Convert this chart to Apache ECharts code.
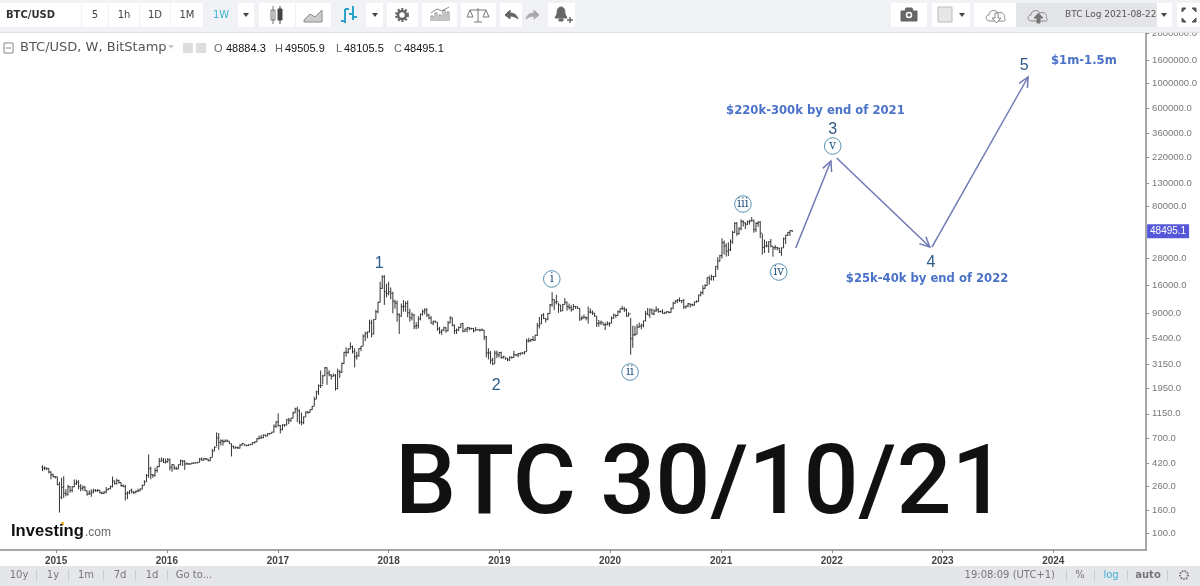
<!DOCTYPE html>
<html>
<head>
<meta charset="utf-8">
<title>BTC/USD</title>
<script src="https://cdn.jsdelivr.net/npm/echarts@6/dist/echarts.min.js"></script>
<style>
  html, body { margin: 0; padding: 0; background: #fff; }
  #main { width: 1200px; height: 586px; }
</style>
</head>
<body>
<div id="main"></div>
<script>
// weekly bars, first one is the week of 2014-11-17
var firstWeek = '2014-11-17';
var opens = [
  385,376,378,375,348,330,318,
  315,270,208,255,226,222,258,240,258,275,283,260,250,255,238,222,226,232,240,238,240,228,225,232,243,248,258,290,275,293,282,265,260,225,228,240,232,230,235,238,246,265,285,325,375,330,325,360,390,435,445,425,
  432,448,385,405,378,372,405,440,435,412,412,410,418,420,420,425,455,445,458,455,440,470,535,580,700,640,660,650,660,655,625,590,570,575,570,605,625,605,602,610,618,640,648,690,700,705,745,730,765,770,790,890,
  975,905,830,915,915,1020,1000,1050,1170,1270,1225,970,960,1080,1190,1180,1250,1340,1550,1800,2050,2050,2500,2950,2650,2550,2480,2510,1930,2730,2700,3220,4050,4050,4350,4550,4100,3700,3780,4380,4580,5650,5980,6150,7400,5900,7950,9300,11300,15000,19000,14000,
  13500,14000,13600,11500,11100,8800,8500,10300,10400,11000,9100,8200,8700,6900,7000,8050,8850,9300,9650,8700,8200,7350,7650,7500,6550,6150,6380,6700,6300,7400,8200,7050,6300,6400,6720,7290,6250,6500,6700,6600,6600,6300,6440,6420,6400,6380,5550,4000,4000,3450,3200,3990,3850,
  4040,3650,3700,3580,3470,3670,3650,3850,3840,3950,3990,3990,4100,5100,5150,5270,5200,5750,6990,7250,8700,8100,8000,8950,10700,11900,11300,11400,10700,9500,10800,11300,10300,10100,9700,10350,10300,9980,8050,8200,8300,8200,9250,9200,9030,8500,7300,7400,7500,7100,7150,7250,
  7350,8150,8700,8600,9300,9900,9900,9650,8520,8900,5350,5800,5880,6770,6900,7050,7700,8900,8700,9650,8900,9450,9680,9330,9300,9000,9070,9300,9170,9930,11050,11600,11800,11650,11700,10250,10450,10950,10750,10670,11350,11500,13100,13760,15000,15900,18700,18200,19150,19150,23500,26200,
  29300,38200,35800,32200,33100,38900,47200,57000,46100,50900,59000,57400,55800,58800,59800,60000,50000,56700,58200,46500,34700,35700,35800,39000,35600,34500,34700,34250,31400,34400,41500,44500,47000,48884.3
];
var highs = [
  400,392,382,378,355,338,322,
  318,285,310,320,245,268,262,262,300,298,295,272,265,262,238,240,245,248,245,246,242,234,235,256,250,265,318,293,305,298,282,270,268,235,240,248,235,240,248,250,270,295,335,500,390,335,380,395,465,470,465,460,
  465,460,410,405,390,408,450,445,445,425,420,420,425,425,430,465,470,465,462,458,475,560,590,785,775,680,680,680,680,660,625,600,590,590,615,630,618,610,615,620,645,650,700,735,745,755,750,775,775,795,925,985,
  1160,915,930,925,1035,1060,1060,1200,1300,1330,1260,1180,1090,1210,1215,1265,1350,1630,1850,2100,2790,2560,3000,2980,2800,2590,2620,2600,2900,2830,3290,4100,4480,4400,4980,4650,4400,4100,4400,4600,5850,6180,6200,7900,7900,8000,9700,11400,17200,19666,19700,16500,
  17200,15300,14000,11900,11700,9000,11000,11800,11500,11700,9900,9150,8900,7500,8500,8950,9750,9990,10000,8900,8500,7750,7770,7500,6820,6480,6850,6780,7700,8500,8250,7150,6600,6880,7300,7400,6600,6800,6800,6700,6680,6800,6500,6550,6600,6400,5650,4400,4150,3620,4200,4200,4050,
  4100,3770,3650,3620,3720,3700,4170,3890,4000,4020,4050,4150,5350,5450,5330,5650,5800,7400,8350,8800,9050,8100,9100,10900,13880,12000,13150,11100,10700,10900,12300,11450,11000,10630,10900,10480,10370,10000,8550,8800,8400,10350,9950,9550,9100,8500,7850,7750,7450,7450,7650,7500,
  8450,8950,8750,9550,9900,10500,10270,9970,9190,8180,7000,6950,7200,7450,7300,7750,9450,10050,9950,9950,9800,10400,10000,9550,9800,9300,9450,9350,10150,11400,11800,12050,12450,11800,12100,10550,11150,11000,10950,11450,11750,13200,14100,15950,16350,18800,19500,19900,19400,23700,28400,29900,
  41950,40100,37800,38500,40900,48800,58300,58300,52600,61800,60600,58200,60200,61200,64800,61500,58400,59500,59500,45800,40800,39500,39500,41300,35500,36500,35100,34500,34700,42500,45000,47800,49500,49505.9
];
var lows = [
  355,362,362,340,300,312,305,
  265,152,200,205,212,215,228,230,255,268,245,235,238,235,215,218,210,225,232,232,225,222,222,225,240,245,255,270,270,275,258,255,195,200,222,225,222,225,232,235,245,265,285,310,300,310,318,345,385,430,420,415,
  420,360,350,365,365,370,400,395,365,405,405,408,410,415,418,425,440,440,445,435,435,470,535,590,550,600,600,640,645,620,480,565,565,560,565,600,600,590,595,605,610,625,645,680,690,695,720,725,750,770,785,860,
  880,770,820,880,905,930,975,1050,1170,970,930,910,930,1080,1150,1180,1240,1340,1550,1690,1950,2100,2500,2080,2480,2320,2470,1850,1900,2400,2650,3200,3700,3950,4300,3950,2980,3480,3700,4150,4600,5100,5400,6100,5500,5850,7950,9000,11200,14800,10700,12500,
  13000,12000,9000,9900,7600,5900,8400,9300,9300,8300,7600,7800,6500,6500,6600,7800,8600,8800,8350,7950,7300,7050,7430,6300,5900,5800,6250,6050,6250,7350,6900,5900,5900,6250,6650,6100,6150,6100,6350,6440,6100,6300,6350,6200,6300,5200,3650,3500,3200,3120,3200,3600,3650,
  3550,3560,3470,3370,3390,3550,3620,3750,3670,3800,3880,3880,4100,4950,5000,5100,5120,5650,6600,7250,8000,7450,7800,8900,10300,9600,10800,9100,9300,9400,10800,9500,9750,9300,9600,9900,9850,7700,7800,8100,7800,7300,8980,8700,8400,6800,6850,7100,7050,6400,7030,6850,
  7350,8050,8230,8550,9050,9700,9280,8400,8450,3850,4450,5650,5850,6700,6500,6750,7650,8700,8200,8800,8650,9300,9100,9200,8950,8900,9050,9000,9130,9900,11000,11100,11400,11100,9850,9900,10200,10150,10400,10520,11200,11400,12750,13200,14850,15800,16200,17600,17600,19000,21900,26100,
  27700,30000,28800,29100,32200,37400,47000,44000,45100,49300,53200,50500,54900,55500,59000,47000,47500,53000,42000,30000,31000,34800,31000,34800,28700,33000,32700,31000,29300,34400,37300,43800,43900,48105.5
];
var closes = [
  376,378,375,348,330,318,315,
  270,208,255,226,222,258,240,258,275,283,260,250,255,238,222,226,232,240,238,240,228,225,232,243,248,258,290,275,293,282,265,260,225,228,240,232,230,235,238,246,265,285,325,375,330,325,360,390,435,445,425,432,
  448,385,405,378,372,405,440,435,412,412,410,418,420,420,425,455,445,458,455,440,470,535,580,700,640,660,650,660,655,625,590,570,575,570,605,625,605,602,610,618,640,648,690,700,705,745,730,765,770,790,890,975,
  905,830,915,915,1020,1000,1050,1170,1270,1225,970,960,1080,1190,1180,1250,1340,1550,1800,2050,2050,2500,2950,2650,2550,2480,2510,1930,2730,2700,3220,4050,4050,4350,4550,4100,3700,3780,4380,4580,5650,5980,6150,7400,5900,7950,9300,11300,15000,19000,14000,13500,
  14000,13600,11500,11100,8800,8500,10300,10400,11000,9100,8200,8700,6900,7000,8050,8850,9300,9650,8700,8200,7350,7650,7500,6550,6150,6380,6700,6300,7400,8200,7050,6300,6400,6720,7290,6250,6500,6700,6600,6600,6300,6440,6420,6400,6380,5550,4000,4000,3450,3200,3990,3850,4040,
  3650,3700,3580,3470,3670,3650,3850,3840,3950,3990,3990,4100,5100,5150,5270,5200,5750,6990,7250,8700,8100,8000,8950,10700,11900,11300,11400,10700,9500,10800,11300,10300,10100,9700,10350,10300,9980,8050,8200,8300,8200,9250,9200,9030,8500,7300,7400,7500,7100,7150,7250,7350,
  8150,8700,8600,9300,9900,9900,9650,8520,8900,5350,5800,5880,6770,6900,7050,7700,8900,8700,9650,8900,9450,9680,9330,9300,9000,9070,9300,9170,9930,11050,11600,11800,11650,11700,10250,10450,10950,10750,10670,11350,11500,13100,13760,15000,15900,18700,18200,19150,19150,23500,26200,29300,
  38200,35800,32200,33100,38900,47200,57000,46100,50900,59000,57400,55800,58800,59800,60000,50000,56700,58200,46500,34700,35700,35800,39000,35600,34500,34700,34250,31400,34400,41500,44500,47000,48800,48495.1
];

var yearTicks = ['2015-01-01','2016-01-01','2017-01-01','2018-01-01','2019-01-01','2020-01-01','2021-01-01','2022-01-01','2023-01-01','2024-01-01'];
var priceTicks = [100,160,260,420,700,1150,1950,3150,5400,9000,16000,28000,80000,130000,220000,360000,600000,1000000,1600000,2800000];

// hand drawn forecast, [from date, from price, to date, to price]
var arrows = [
  ['2021-09-04',34320,'2021-12-29',203900],
  ['2022-01-17',216800,'2022-11-20',35030],
  ['2022-11-27',35030,'2023-10-10',1140000]
];
// wave counts, [date, price, text]
var waveNumbers = [
  ['2017-12-01',24730,'1'],
  ['2018-12-22',2030,'2'],
  ['2022-01-04',385000,'3'],
  ['2022-11-24',25240,'4'],
  ['2023-09-27',1429000,'5']
];
var waveCircles = [
  ['2019-06-23',18200,'i'],
  ['2020-03-07',2706,'ii'],
  ['2021-03-14',84500,'iii'],
  ['2021-07-10',20990,'iv'],
  ['2022-01-04',277400,'v']
];
var notes = [
  ['2021-11-08',568000,'$220k-300k by end of 2021'],
  ['2022-11-11',18200,'$25k-40k by end of 2022'],
  ['2024-04-11',1583000,'$1m-1.5m']
];

var week = 7 * 24 * 3600 * 1000;
var start = +new Date(firstWeek);
var bars = closes.map(function (c, i) {
  return [start + i * week, opens[i], highs[i], lows[i], c];
});
var lastBar = bars[bars.length - 1];

var myChart = echarts.init(document.getElementById('main'));

// toolbar and footer pieces
var g = [];
var iconCount = 0;
function box(x, y, w, h, fill, stroke) {
  g.push({ type: 'rect', z: 100, shape: { x: x, y: y, width: w, height: h }, style: { fill: fill, stroke: stroke || null, lineWidth: 1 } });
}
function seg(x1, y1, x2, y2, color, w) {
  g.push({ type: 'line', z: 101, shape: { x1: x1, y1: y1, x2: x2, y2: y2 }, style: { stroke: color, lineWidth: w || 1 } });
}
function txt(s, x, y, font, fill, align) {
  g.push({ type: 'text', z: 101, x: x, y: y, style: { text: s, font: font, fill: fill, textAlign: align || 'left', textVerticalAlign: 'middle' } });
}
function caret(x, y, color) {
  g.push({ type: 'polygon', z: 101, shape: { points: [[x - 3, y - 2], [x + 3, y - 2], [x, y + 2]] }, style: { fill: color || '#444' } });
}
function ring(x, y, r, color, w, dash) {
  g.push({ type: 'circle', z: 101, shape: { cx: x, cy: y, r: r }, style: { fill: 'none', stroke: color, lineWidth: w, lineDash: dash || null } });
}
// graphic has no plain path type, so each icon gets registered as a shape
function icon(d, x, y, fill, stroke) {
  var name = 'toolIcon' + (iconCount++);
  echarts.graphic.registerShape(name, echarts.graphic.extendPath(d, {}));
  g.push({ type: name, z: 101, x: x, y: y, style: { fill: fill, stroke: stroke, lineWidth: 1 } });
}

var tbFont = '10px "DejaVu Sans"';
box(0, 0, 1200, 32, '#f0f2f5');
seg(0, 32.5, 1200, 32.5, '#dfe3e8', 1);
box(0, 3, 81, 24, '#fff');
txt('BTC/USD', 6, 15, 'bold 10px "DejaVu Sans"', '#333');
[[82, 26, '5'], [109, 30, '1h'], [140, 30, '1D'], [171, 32, '1M']].forEach(function (b) {
  box(b[0], 3, b[1], 24, '#fff');
  txt(b[2], b[0] + b[1] / 2, 15, tbFont, '#444', 'center');
});
box(204, 3, 33, 24, '#f0f2f5');
txt('1W', 221, 15, tbFont, '#3fb0d6', 'center');
box(238, 3, 16, 24, '#fff');
caret(246, 15);
// chart type group
box(259, 3, 36, 24, '#fff');
seg(273, 6, 273, 24, '#777');
box(271, 10, 4, 10, '#fff', '#777');
seg(280, 6, 280, 24, '#444');
box(278, 9, 4, 11, '#444', '#444');
box(296, 3, 35, 24, '#fff');
icon('M0 12 L6 6 L11 9 L18 2 L18 14 L0 14 Z', 304, 8, '#ccc', '#888');
box(331, 3, 35, 24, '#f0f2f5');
seg(345, 9, 345, 23, '#2aa5c9', 2);
seg(345, 9, 349, 9, '#2aa5c9', 2);
seg(341, 21, 345, 21, '#2aa5c9', 2);
seg(353, 6, 353, 20, '#2aa5c9', 2);
seg(349, 14, 353, 14, '#2aa5c9', 2);
seg(353, 17, 357, 17, '#2aa5c9', 2);
box(366, 3, 17, 24, '#fff');
caret(375, 15);
// settings
box(387, 3, 31, 24, '#fff');
ring(402, 15, 5.5, '#666', 3, [2, 1.5]);
ring(402, 15, 4, '#666', 2.5);
box(422, 3, 35, 24, '#fff');
icon('M0 14 V9 H2 V14 M4 14 V6 H6 V14 M8 14 V8 H10 V14 M12 14 V3 H14 V14 M16 14 V5 H18 V14 M0 6 L6 2 L11 4 L18 0', 431, 7, 'none', '#888');
box(461, 3, 35, 24, '#fff');
icon('M9 0 V14 M1 2 H17 M1 2 L-2 9 H4 Z M17 2 L14 9 H20 Z M5 14 H13', 469, 8, 'none', '#777');
box(500, 3, 22, 24, '#fff');
icon('M0 5 L5 0 V3 C9 3 12 5 13 9 C11 7 8 6 5 6 V9 Z', 505, 10, '#666', '#666');
box(522, 3, 21, 24, '#f0f2f5');
icon('M13 5 L8 0 V3 C4 3 1 5 0 9 C2 7 5 6 8 6 V9 Z', 526, 10, '#aaa', '#aaa');
box(548, 3, 27, 24, '#fff');
icon('M6 0 C9 0 10 3 10 7 L12 11 H0 L2 7 C2 3 3 0 6 0 Z M4 12 H8 V14 H4 Z', 555, 7, '#666', '#666');
seg(567, 20, 573, 20, '#666', 1.5);
seg(570, 17, 570, 23, '#666', 1.5);
// right hand group
box(891, 3, 36, 24, '#fff');
icon('M0 3 H4 L5 0 H11 L12 3 H16 V13 H0 Z', 901, 8, '#666', '#666');
ring(909, 15, 2.5, '#fff', 1.5);
box(932, 3, 38, 24, '#fff');
box(938, 7, 14, 15, '#e6e6e6', '#bbb');
caret(962, 15);
box(974, 3, 42, 24, '#fff');
icon('M5 14 C0 14 0 8 4 8 C4 3 11 2 13 6 C18 4 21 9 19 11 C22 13 20 14 18 14 Z', 985, 7, '#fff', '#888');
icon('M3 0 H6 V5 H9 L4.5 10 L0 5 H3 Z', 992, 13, '#fff', '#888');
box(1016, 3, 141, 24, '#e3e5e8');
icon('M5 14 C0 14 0 8 4 8 C4 3 11 2 13 6 C18 4 21 9 19 11 C22 13 20 14 18 14 Z', 1027, 7, '#e3e5e8', '#888');
icon('M4.5 0 L9 5 H6 V10 H3 V5 H0 Z', 1034, 13, '#777', '#777');
txt('BTC Log 2021-08-22', 1065, 15, '9px "DejaVu Sans"', '#555');
box(1157, 3, 15, 24, '#fff');
caret(1164, 15);
box(1177, 3, 23, 24, '#fff');
icon('M0 0 H4 L0 4 Z M14 0 H10 L14 4 Z M0 14 H4 L0 10 Z M14 14 H10 L14 10 Z', 1182, 8, '#555', '#555');

// legend row
box(4, 43, 9, 10, '#fff', '#888');
seg(6, 48, 11, 48, '#888', 1);
txt('BTC/USD, W, BitStamp', 20, 48, '13px "DejaVu Sans"', '#555');
caret(171, 47, '#ccc');
box(183, 43, 10, 10, '#ddd');
box(196, 43, 10, 10, '#ddd');
[['O', 214, '48884.3', 226], ['H', 275, '49505.9', 285], ['L', 336, '48105.5', 344], ['C', 394, '48495.1', 404]].forEach(function (o) {
  txt(o[0], o[1], 49, '11px "Liberation Sans"', '#666');
  txt(o[2], o[3], 49, '11px "Liberation Sans"', '#111');
});

// logo and big caption
txt('Investing', 11, 531, 'bold 16.6px "Liberation Sans"', '#111');
txt('.com', 85, 533, '12px "Liberation Sans"', '#666');
box(61, 522, 3, 3, '#f2b632');
txt('BTC 30/10/21', 395, 489, '500 97px Roboto', '#111');

// footer
box(0, 566, 1200, 20, '#e4e6ea');
var ftFont = '10px "DejaVu Sans"';
[['10y', 19], ['1y', 53], ['1m', 86], ['7d', 120], ['1d', 152], ['Go to...', 194]].forEach(function (f) {
  txt(f[0], f[1], 575, ftFont, '#777', 'center');
});
[36, 68, 103, 135, 167, 1066, 1094, 1127, 1167].forEach(function (x) {
  seg(x + 0.5, 570, x + 0.5, 581, '#c9ccd1', 1);
});
txt('19:08:09 (UTC+1)', 1055, 575, ftFont, '#777', 'right');
txt('%', 1080, 575, ftFont, '#777', 'center');
txt('log', 1111, 575, ftFont, '#3fb0d6', 'center');
txt('auto', 1148, 575, 'bold 10px "DejaVu Sans"', '#777', 'center');
ring(1184, 575, 4, '#777', 2, [1.5, 1.2]);

var barColor = '#333';
var yearStamps = yearTicks.map(function (d) { return +new Date(d); });
var option = {
  animation: false,
  useUTC: true,
  backgroundColor: '#fff',
  textStyle: { fontFamily: '"Liberation Sans", Arial, sans-serif' },
  grid: { left: 0, right: 52, top: 32, bottom: 36 },
  xAxis: {
    type: 'value',
    min: +new Date('2014-06-30'),
    max: +new Date('2024-11-02'),
    axisLine: { lineStyle: { color: '#8c8c8c', width: 1.5 } },
    axisTick: { length: 3, lineStyle: { color: '#8c8c8c' }, customValues: yearStamps },
    axisLabel: {
      customValues: yearStamps,
      formatter: function (v) { return new Date(v).getUTCFullYear() + ''; },
      color: '#444', fontSize: 10, fontWeight: 'bold', margin: 6
    },
    splitLine: { show: false }
  },
  yAxis: {
    type: 'log',
    logBase: 10,
    position: 'right',
    min: 70.6,
    max: 2866000,
    axisLine: { show: true, lineStyle: { color: '#8c8c8c', width: 1.5 } },
    axisTick: { show: true, length: 3, lineStyle: { color: '#8c8c8c' }, customValues: priceTicks },
    axisLabel: {
      customValues: priceTicks,
      formatter: function (v) { return Number(v).toFixed(1); },
      color: '#777', fontSize: 9.5, margin: 6
    },
    splitLine: { show: false }
  },
  graphic: g,
  series: [
    {
      name: 'BTC/USD',
      type: 'custom',
      data: bars,
      encode: { x: 0, y: [1, 2, 3, 4] },
      renderItem: function (params, api) {
        var x = api.coord([api.value(0), api.value(1)])[0];
        var yo = api.coord([api.value(0), api.value(1)])[1];
        var yh = api.coord([api.value(0), api.value(2)])[1];
        var yl = api.coord([api.value(0), api.value(3)])[1];
        var yc = api.coord([api.value(0), api.value(4)])[1];
        var st = { stroke: barColor, lineWidth: 1 };
        return {
          type: 'group',
          children: [
            { type: 'line', shape: { x1: x, y1: yh, x2: x, y2: yl }, style: st },
            { type: 'line', shape: { x1: x - 1, y1: yo, x2: x, y2: yo }, style: st },
            { type: 'line', shape: { x1: x, y1: yc, x2: x + 1, y2: yc }, style: st }
          ]
        };
      }
    },
    {
      // forecast arrows
      type: 'custom',
      data: arrows.map(function (a) { return [+new Date(a[0]), a[1], +new Date(a[2]), a[3]]; }),
      encode: { x: [0, 2], y: [1, 3] },
      renderItem: function (params, api) {
        var p0 = api.coord([api.value(0), api.value(1)]);
        var p1 = api.coord([api.value(2), api.value(3)]);
        var ang = Math.atan2(p1[1] - p0[1], p1[0] - p0[0]);
        var len = 11;
        function head(d) {
          return [p1[0] - len * Math.cos(ang + d), p1[1] - len * Math.sin(ang + d)];
        }
        var a = head(0.45), b = head(-0.45);
        var st = { stroke: '#6f79b5', lineWidth: 1.5, fill: 'none' };
        return {
          type: 'group',
          children: [
            { type: 'line', shape: { x1: p0[0], y1: p0[1], x2: p1[0], y2: p1[1] }, style: st },
            { type: 'polyline', shape: { points: [a, p1, b] }, style: st }
          ]
        };
      }
    },
    {
      type: 'custom',
      data: waveNumbers.map(function (w) { return [+new Date(w[0]), w[1], w[2]]; }),
      encode: { x: 0, y: 1 },
      renderItem: function (params, api) {
        var p = api.coord([api.value(0), api.value(1)]);
        return { type: 'text', x: p[0], y: p[1], style: { text: waveNumbers[params.dataIndex][2], font: '16px "Liberation Sans"', fill: '#2c5a86', textAlign: 'center', textVerticalAlign: 'middle' } };
      }
    },
    {
      type: 'custom',
      data: waveCircles.map(function (w) { return [+new Date(w[0]), w[1], w[2]]; }),
      encode: { x: 0, y: 1 },
      renderItem: function (params, api) {
        var p = api.coord([api.value(0), api.value(1)]);
        return {
          type: 'group',
          children: [
            { type: 'circle', shape: { cx: p[0], cy: p[1], r: 8.3 }, style: { fill: '#fff', stroke: '#5a93b5', lineWidth: 1 } },
            { type: 'text', x: p[0], y: p[1], style: { text: waveCircles[params.dataIndex][2], font: '12px "DejaVu Serif"', fill: '#2c5a86', textAlign: 'center', textVerticalAlign: 'middle' } }
          ]
        };
      }
    },
    {
      type: 'custom',
      data: notes.map(function (w) { return [+new Date(w[0]), w[1], w[2]]; }),
      encode: { x: 0, y: 1 },
      renderItem: function (params, api) {
        var p = api.coord([api.value(0), api.value(1)]);
        return { type: 'text', x: p[0], y: p[1], style: { text: notes[params.dataIndex][2], font: 'bold 11.62px "DejaVu Sans"', fill: '#4a72c8', textAlign: 'center', textVerticalAlign: 'middle' } };
      }
    },
    {
      // last price flag on the axis
      type: 'custom',
      clip: false,
      data: [[lastBar[0], lastBar[4]]],
      encode: { x: 0, y: 1 },
      renderItem: function (params, api) {
        var y = api.coord([api.value(0), api.value(1)])[1];
        var x = params.coordSys.x + params.coordSys.width;
        return {
          type: 'group',
          children: [
            { type: 'rect', shape: { x: x + 1, y: y - 7, width: 42, height: 14 }, style: { fill: '#5557d8' } },
            { type: 'text', x: x + 22, y: y, style: { text: api.value(1).toFixed(1), font: '10px "Liberation Sans"', fill: '#fff', textAlign: 'center', textVerticalAlign: 'middle' } }
          ]
        };
      }
    }
  ]
};
myChart.setOption(option);
</script>
</body>
</html>
